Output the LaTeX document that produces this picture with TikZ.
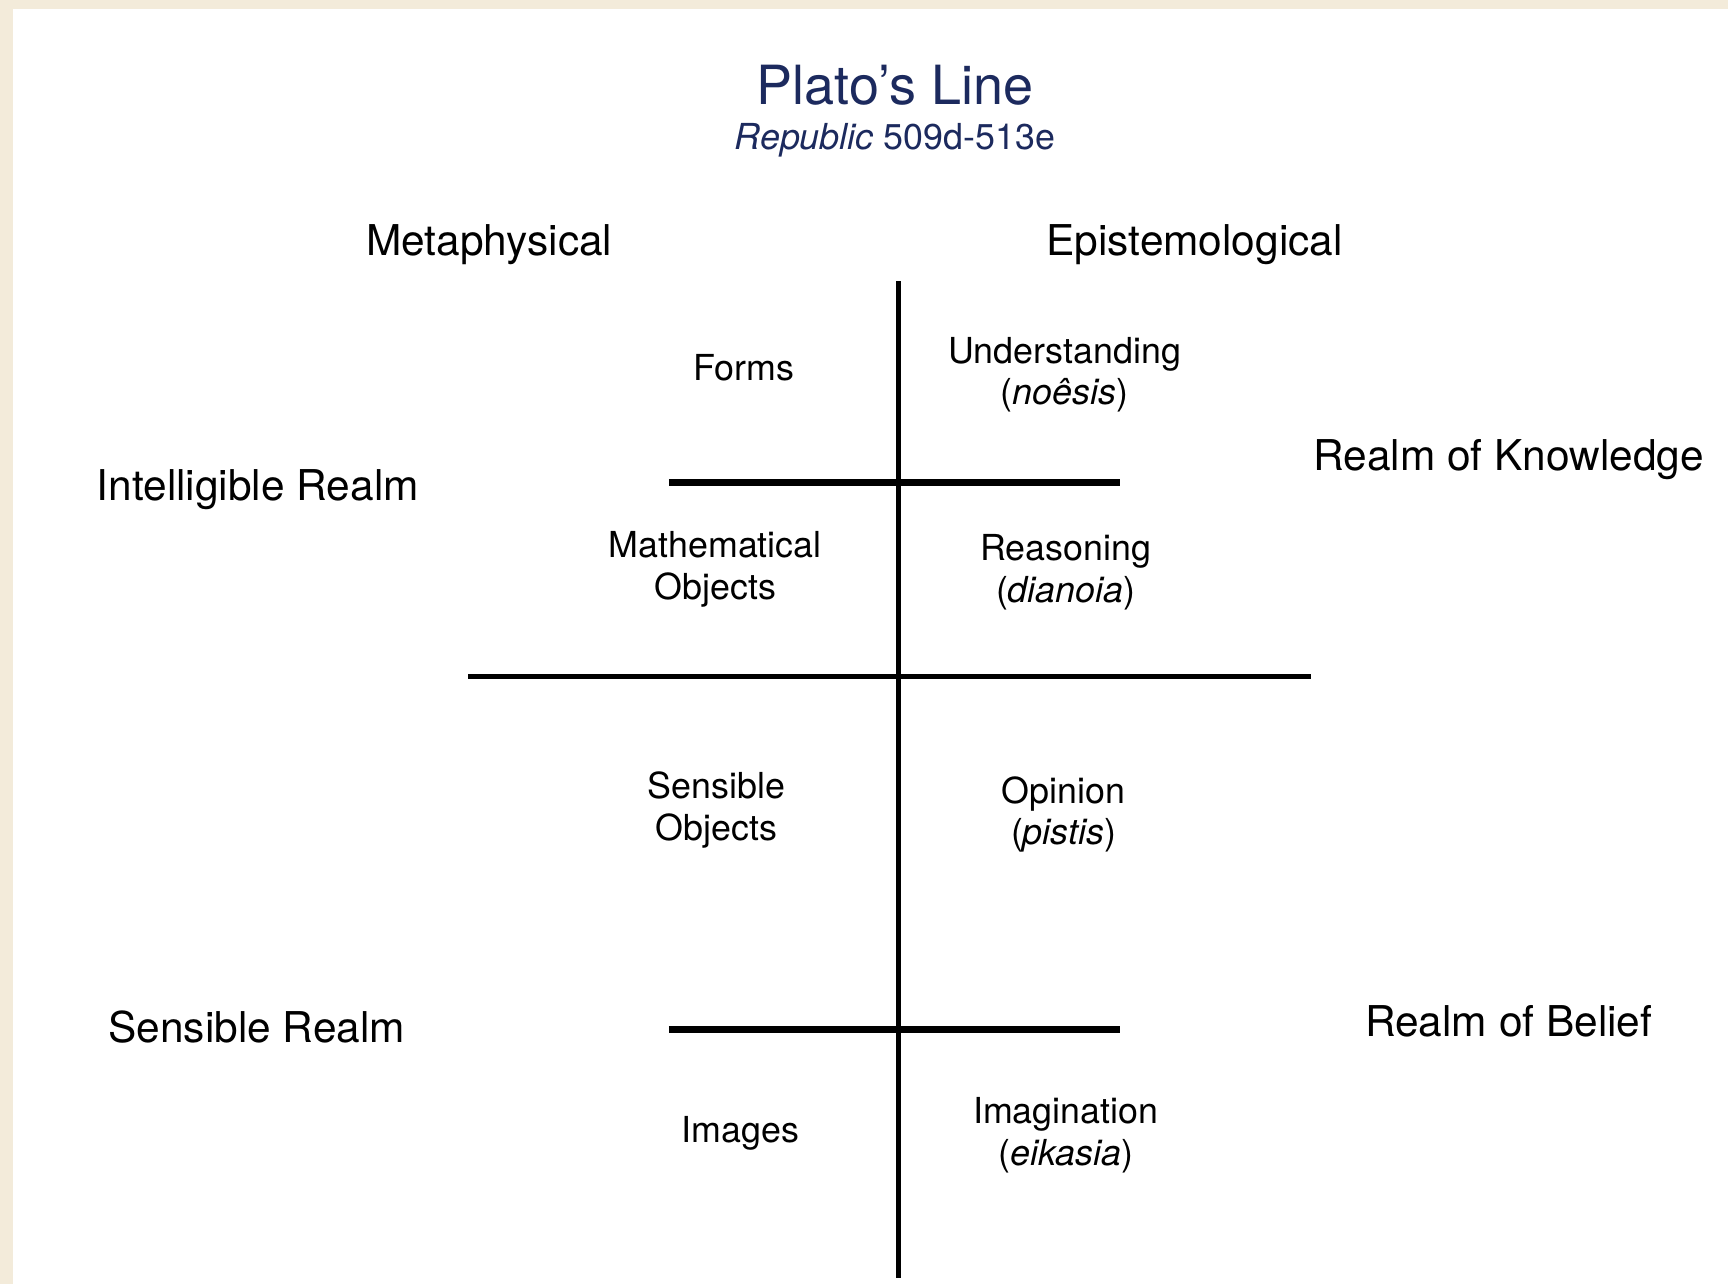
\documentclass[tikz,border=0pt]{standalone}
\usepackage{fontspec}
\setmainfont{TeX Gyre Heros}
\definecolor{paper}{HTML}{F3EBDA}
\definecolor{navy}{HTML}{1C2A5E}
\begin{document}
\begin{tikzpicture}[x=1pt,y=-1pt,
  title/.style={font=\fontsize{49}{54}\selectfont, text=navy, inner sep=0},
  subtitle/.style={font=\fontsize{32.5}{38}\selectfont, text=navy, inner sep=0},
  big/.style={font=\fontsize{38.5}{44}\selectfont, inner sep=0},
  cell/.style={font=\fontsize{32.5}{38}\selectfont, align=center, inner sep=0},
  thin/.style={line width=4.5pt},
  thick/.style={line width=6pt},
  mid/.style={line width=5pt}]
\fill[paper] (0,0) rectangle (1568,1165);
\fill[white] (12,8) rectangle (1568,1165);
\useasboundingbox (0,0) rectangle (1568,1165);

\node[title] (t) at (812,77) {Plato’s Line};
\node[subtitle] (st) at (812,127) {\textit{Republic} 509d-513e};

\node[big] (meta) at (444,222) {Metaphysical};
\node[big] (epis) at (1084,222) {Epistemological};
\node[big] (intel) at (234,444) {Intelligible Realm};
\node[big] (sens) at (233,932) {Sensible Realm};
\node[big] (know) at (1369,417) {Realm of Knowledge};
\node[big] (belief) at (1369,927) {Realm of Belief};

\node[cell] (forms) at (675,334) {Forms};
\node[cell] (under) at (966,340) {Understanding\\(\textit{noêsis})};
\node[cell] (math) at (649,517) {Mathematical\\Objects};
\node[cell] (reas) at (967,519) {Reasoning\\(\textit{dianoia})};
\node[cell] (sobj) at (650,735) {Sensible\\Objects};
\node[cell] (opin) at (965,739) {Opinion\\(\textit{pistis})};
\node[cell] (img) at (672,1028) {Images};
\node[cell] (imag) at (967,1030) {Imagination\\(\textit{eikasia})};

\coordinate (vtop) at (815,255);
\coordinate (vbot) at (815,1160);
\coordinate (h1l) at (607,438);
\coordinate (h1r) at (1016,438);
\coordinate (h2l) at (425,614);
\coordinate (h2r) at (1190,614);
\coordinate (h3l) at (607,934);
\coordinate (h3r) at (1016,934);

\draw[thin] (vtop) -- (vbot);
\draw[thick] (h1l) -- (h1r);
\draw[mid] (h2l) -- (h2r);
\draw[thick] (h3l) -- (h3r);
\end{tikzpicture}
\end{document}
